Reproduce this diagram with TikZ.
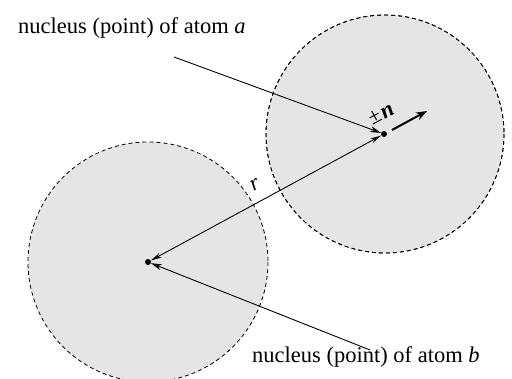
\documentclass[tikz,border=0pt]{standalone}
\usepackage{fontspec}
\setmainfont{Liberation Serif}
\usetikzlibrary{arrows.meta}
\begin{document}
\begin{tikzpicture}[x=1pt,y=-1pt,
  atom/.style={draw,dashed,dash pattern=on 4pt off 3pt,fill=black!10,line width=0.8pt},
  nuc/.style={circle,fill=black,inner sep=0pt,minimum size=6pt},
  lbl/.style={font=\fontsize{22.5}{26}\selectfont,inner sep=0pt},
  ann/.style={line width=0.9pt,-{Stealth[length=11pt,width=6pt]}}]
\useasboundingbox (0,0) rectangle (512,378);
\fill[atom] (385,134) circle (119);
\fill[atom] (148,262) circle (120);
\draw[atom,fill=none] (385,134) circle (119);
\node[nuc] (a) at (384,134) {};
\node[nuc] (b) at (148,262) {};
\draw[line width=0.9pt,{Stealth[open,length=11pt,width=5pt]}-{Stealth[open,length=11pt,width=5pt]}] (b) -- (a);
\node[lbl,rotate=28.4] (r) at (255,185) {\textit{r}};
\coordinate (ns) at (392,130);
\coordinate (ne) at (427,111);
\draw[line width=2pt,-{Stealth[length=11pt,width=8pt]}] (ns) -- (ne);
\node[lbl,rotate=28.4] (pn) at (381,114) {±\kern1.5pt\textbf{\textit{n}}};
\node[lbl,anchor=base west] (ta) at (18,33) {nucleus (point) of atom \textit{a}};
\node[lbl,anchor=base west] (tb) at (252,362) {nucleus (point) of atom \textit{b}};
\coordinate (sa) at (174,57);
\coordinate (sb) at (370,350);
\draw[ann] (sa) -- (a);
\draw[ann] (sb) -- (b);
\end{tikzpicture}
\end{document}
